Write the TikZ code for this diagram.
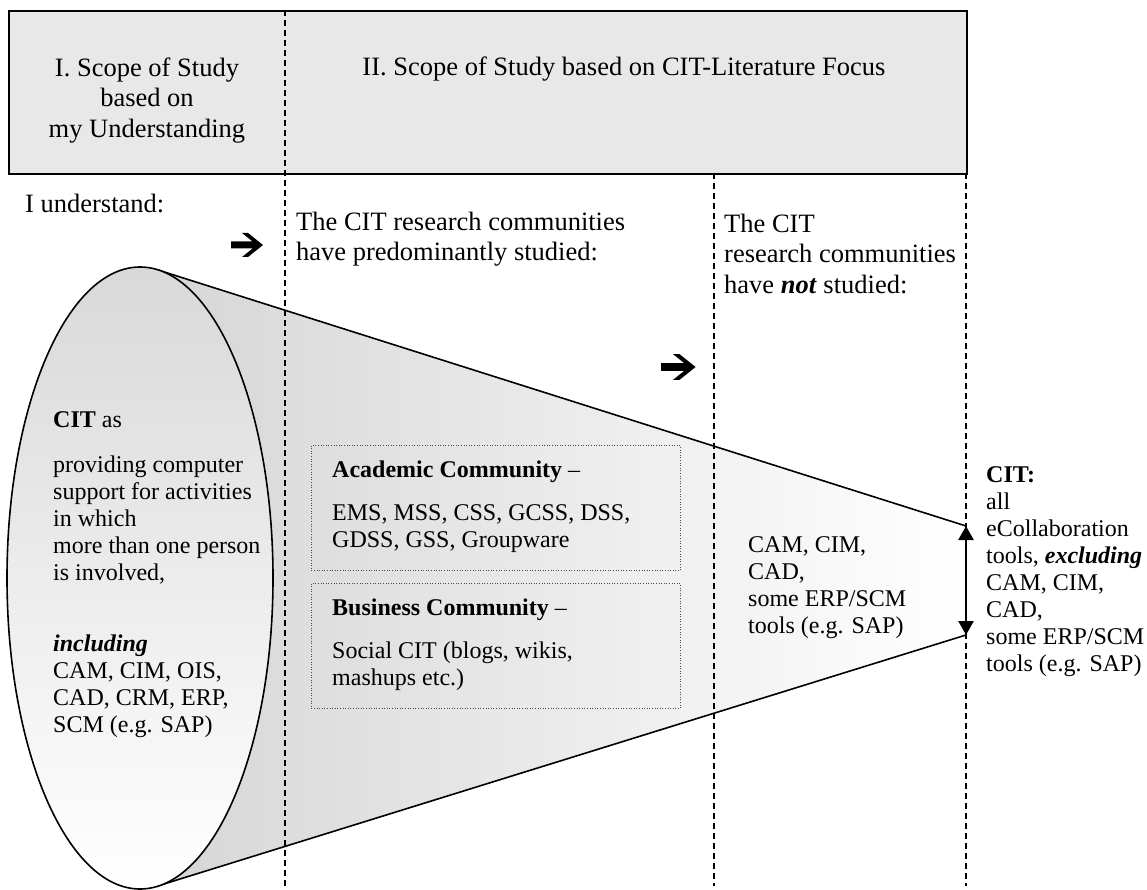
\documentclass[tikz,border=0pt]{standalone}
\usepackage{fontspec}
\setmainfont{Liberation Serif}
\usetikzlibrary{arrows.meta}
\tikzset{
  big/.style={font=\fontsize{26.5}{30.5}\selectfont, inner sep=0pt, align=left},
  body/.style={font=\fontsize{24}{27}\selectfont, inner sep=0pt, align=left},
  divider/.style={line width=1.3pt, dash pattern=on 6pt off 4pt},
  group/.style={draw=black!70, line width=0.9pt, dash pattern=on 1pt off 1.6pt, inner sep=0pt},
  outline/.style={line width=1.6pt},
  pics/fatarrow/.style={code={
    \fill (0,-3.5) -- (21.6,-3.5) -- (11,-12) -- (17,-12) -- (32,0)
          -- (17,12) -- (11,12) -- (21.6,3.5) -- (0,3.5) -- cycle;}},
}
\begin{document}
\begin{tikzpicture}[x=1pt,y=-1pt]
\useasboundingbox (0,0) rectangle (1147,890);

% header band
\node[draw, line width=2pt, fill=gray!18, inner sep=0pt, minimum width=958pt,
      minimum height=163pt, anchor=north west] (header) at (8,10) {};
\node[big, align=center, anchor=north] (scopeone) at (147,76-21.35)
  {\strut I. Scope of Study\\based on\\my Understanding};
\node[big, anchor=base] (scopetwo) at (624,76)
  {II. Scope of Study based on CIT-Literature Focus};

% cone
\coordinate (conetop) at (158,270);
\coordinate (conebot) at (157.5,886);
\coordinate (ctop) at (966,526);
\coordinate (cbot) at (966,635);
\shade[left color=gray!32, right color=white] (conetop) -- (ctop) -- (cbot) -- (conebot) -- cycle;
\draw[outline] (conetop) -- (ctop);
\draw[outline] (conebot) -- (cbot);
\shade[top color=gray!30, bottom color=white] (140,578) ellipse [x radius=133, y radius=311];
\draw[outline] (140,578) ellipse [x radius=133, y radius=311];

% column dividers
\coordinate (d1top) at (285,10);   \coordinate (d1bot) at (285,890);
\coordinate (d2top) at (714,173);  \coordinate (d2bot) at (714,886);
\coordinate (d3top) at (966,173);  \coordinate (d3bot) at (966,886);
\draw[divider] (d1top) -- (d1bot);
\draw[divider] (d2top) -- (d2bot);
\draw[divider] (d3top) -- (d3bot);

% column headings
\node[big, anchor=base west] (understand) at (25,213) {I understand:};
\node[big, anchor=north west] (studied) at (296,230-21.35)
  {\strut The CIT research communities\\have predominantly studied:};
\node[big, anchor=north west] (notstudied) at (724,232-21.35)
  {\strut The CIT\\research communities\\have \textbf{\textit{not}} studied:};
\pic at (231,245) {fatarrow};
\pic[scale=1.08] at (661,367) {fatarrow};

% text in the ellipse
\node[body, anchor=base west] (citas) at (53,427) {\textbf{CIT} as};
\node[body, anchor=north west] (providing) at (53,472-18.9)
  {\strut providing computer\\support for activities\\in which\\more than one person\\is involved,};
\node[body, anchor=north west] (including) at (53,651-18.9)
  {\strut\textbf{\textit{including}}\\CAM, CIM, OIS,\\CAD, CRM, ERP,\\SCM (e.g. SAP)};

% community groups
\node[group, minimum width=369pt, minimum height=125pt, anchor=north west] (acadbox) at (311,445) {};
\node[body, anchor=base west] (acadhead) at (332,477) {\textbf{Academic Community} –};
\node[body, anchor=north west] (acadlist) at (332,520-18.9)
  {\strut EMS, MSS, CSS, GCSS, DSS,\\GDSS, GSS, Groupware};
\node[group, minimum width=369pt, minimum height=125pt, anchor=north west] (busbox) at (311,583) {};
\node[body, anchor=base west] (bushead) at (332,615) {\textbf{Business Community} –};
\node[body, anchor=north west] (buslist) at (332,658-18.9)
  {\strut Social CIT (blogs, wikis,\\mashups etc.)};

% tools not studied
\node[body, anchor=north west] (notlist) at (748,552-18.9)
  {\strut CAM, CIM,\\CAD,\\some ERP/SCM\\tools (e.g. SAP)};

% resulting scope
\draw[line width=2.6pt, {Triangle[length=14pt,width=15pt]}-{Triangle[length=14pt,width=15pt]}] (ctop) -- (cbot);
\node[body, anchor=north west] (citscope) at (986,482-18.9)
  {\strut\textbf{CIT:}\\all\\eCollaboration\\tools, \textbf{\textit{excluding}}\\CAM, CIM,\\CAD,\\some ERP/SCM\\tools (e.g. SAP)};
\end{tikzpicture}
\end{document}
